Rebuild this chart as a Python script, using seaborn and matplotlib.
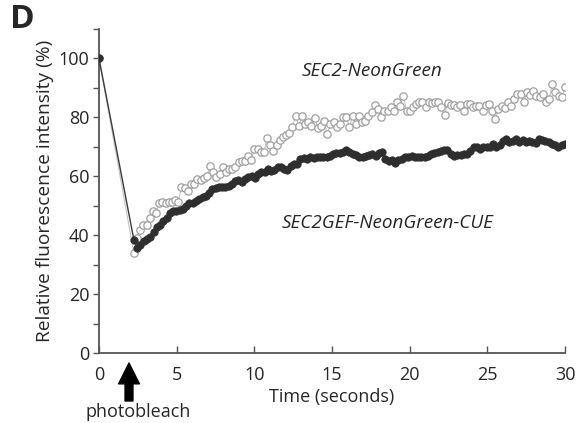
import numpy as np
import pandas as pd
import matplotlib
matplotlib.use("Agg")
import matplotlib.pyplot as plt
import seaborn as sns
from matplotlib.ticker import MultipleLocator

# ---------------- data ----------------
prebleach_time = 0.0
prebleach_value = 100.0
first_post_time = 2.25
last_post_time = 30.0

sec2_post = [33.8, 39.1, 41.7, 43.5, 43.5, 45.7, 48.2, 47.6, 51.0, 51.2,
             51.0, 51.2, 51.2, 52.0, 51.3, 56.5, 56.0, 55.0, 57.3, 57.3,
             59.0, 58.8, 59.5,
             60.1, 63.5, 61.3, 59.6, 60.7, 63.0, 61.5, 62.4, 62.6, 63.0,
             64.9, 65.2, 65.2, 66.9, 65.6, 69.2, 69.2, 68.1, 68.1, 72.9,
             70.6, 68.7, 70.6, 72.4, 73.2, 74.0, 74.6, 76.6, 80.6, 77.2,
             80.4, 77.7,
             78.3, 77.2, 79.7, 76.3, 77.2, 78.9, 74.3, 77.7, 78.3, 76.6,
             77.7, 80.0, 80.0, 76.6, 80.6, 77.7, 80.4, 78.3, 78.9, 80.4,
             81.7, 84.2, 82.9, 80.0, 82.3, 82.3, 83.4, 82.3, 85.1,
             84.0, 87.4, 82.3, 82.3, 83.4, 84.6, 85.1, 85.1, 83.4, 85.1,
             84.8, 85.1, 85.1, 83.4, 80.8, 84.8, 84.3, 84.3, 83.4, 84.3,
             82.3, 84.6, 84.6, 83.4, 84.0, 83.8, 82.3, 84.3,
             84.6, 82.3, 79.4, 82.8, 84.0, 83.1, 85.3, 84.0, 86.3, 87.9,
             87.9, 85.2, 88.7, 87.6, 89.0, 87.4, 86.9, 87.9, 85.2, 86.3,
             91.4, 88.5, 87.2, 86.9, 90.2]

gef_post = [38.3, 35.7, 36.8, 37.9, 38.8, 39.4, 41.0, 42.8, 43.6, 44.8,
            45.9, 47.6, 48.2, 48.2, 48.5, 49.0, 49.9, 51.0, 51.0, 51.6,
            52.2,
            53.0, 53.3, 54.4, 55.6, 56.0, 56.2, 56.2, 56.4, 56.7, 57.5,
            58.4, 58.6, 58.2, 59.0, 59.8, 60.1, 59.5, 60.9, 61.3, 61.5,
            62.4, 61.8, 62.0, 63.0, 63.2, 62.4, 62.0, 63.5, 64.1, 64.3,
            65.8, 66.1, 65.8, 66.4, 66.1, 66.4, 66.4, 66.7, 66.7, 67.0,
            67.5, 67.8, 68.0, 68.3, 68.9, 68.3, 67.5, 67.1, 66.7, 66.4,
            67.0, 67.1, 67.5, 67.0, 67.8, 68.3, 65.8, 65.2, 65.6, 64.6,
            65.6, 66.0, 66.4, 66.7, 67.0, 66.7, 66.7, 66.7, 66.7, 67.0,
            67.5, 67.8, 68.3, 68.6, 69.0, 68.8, 67.5, 67.0, 67.2, 67.3,
            67.5, 67.5, 68.6, 69.8, 70.1, 69.4, 69.8, 70.1,
            70.1, 70.9, 70.1, 70.6, 72.1, 72.6, 71.5, 72.1, 72.6, 71.5,
            72.4, 71.8, 72.1, 71.5, 71.3, 72.8, 72.4, 72.1, 71.5, 70.9,
            70.6, 70.1, 70.6, 70.9]

label_sec2 = "SEC2-NeonGreen"
label_gef = "SEC2GEF-NeonGreen-CUE"
x_ticks = [0, 5, 10, 15, 20, 25, 30]
y_ticks = [0, 20, 40, 60, 80, 100]


def series(values, name):
    t = np.concatenate([[prebleach_time],
                        np.linspace(first_post_time, last_post_time, len(values))])
    v = np.concatenate([[prebleach_value], values])
    return pd.DataFrame({"time": t, "intensity": v, "construct": name})


df_sec2 = series(sec2_post, label_sec2)
df_gef = series(gef_post, label_gef)

# ---------------- figure ----------------
sns.set_style("ticks")
plt.rcParams["font.family"] = ["Open Sans", "DejaVu Sans"]

W, H = 587, 423
fig = plt.figure(figsize=(W / 100, H / 100), dpi=100)
ax = fig.add_axes([99 / W, 1 - 353 / H, (565 - 99) / W, (353 - 29) / H])

sns.lineplot(data=df_sec2, x="time", y="intensity", ax=ax, estimator=None,
             sort=False, color="#c4c4c4", lw=0.8, marker="o", markersize=5.3,
             markerfacecolor="white", markeredgecolor="#a0a0a0",
             markeredgewidth=0.9, zorder=2)
sns.lineplot(data=df_gef, x="time", y="intensity", ax=ax, estimator=None,
             sort=False, color="#3a3a3a", lw=1.0, marker="o", markersize=5.3,
             markerfacecolor="#2e2e2e", markeredgecolor="#2e2e2e",
             markeredgewidth=0.6, zorder=3)

ax.set_xlim(0, 30)
ax.set_ylim(0, 110)
ax.set_xticks(x_ticks)
ax.set_yticks(y_ticks)
ax.yaxis.set_minor_locator(MultipleLocator(10))
ax.tick_params(axis="x", direction="in", length=5, width=1, color="#555555",
               labelsize=13, pad=9)
ax.tick_params(axis="y", which="both", direction="out", length=4, width=1,
               color="#555555", labelsize=13, pad=3)
for s in ["left", "bottom"]:
    ax.spines[s].set_color("#555555")
    ax.spines[s].set_linewidth(1.3)
sns.despine(ax=ax)

ax.set_xlabel("Time (seconds)", fontsize=13, labelpad=3)
ax.set_ylabel("Relative fluorescence intensity (%)", fontsize=13.8, labelpad=3)

ax.text(17.58, 95.8, label_sec2, style="italic", fontsize=13.6, ha="center",
        va="center")
ax.text(18.55, 44.3, label_gef, style="italic", fontsize=13.6, ha="center",
        va="center")

fig.text(10 / W, 1 - 20 / H, "D", fontsize=24, fontweight="bold",
         ha="left", va="center")

ax.annotate("", xy=(129, H - 363), xytext=(129, H - 401),
            xycoords="figure pixels", textcoords="figure pixels",
            arrowprops=dict(arrowstyle="simple,head_length=0.5,head_width=0.5,tail_width=0.19",
                            color="black", mutation_scale=30, shrinkA=0,
                            shrinkB=0),
            annotation_clip=False)
fig.text(138 / W, 1 - 412 / H, "photobleach", fontsize=13, ha="center",
         va="center")

fig.savefig("out.png", dpi=100)
